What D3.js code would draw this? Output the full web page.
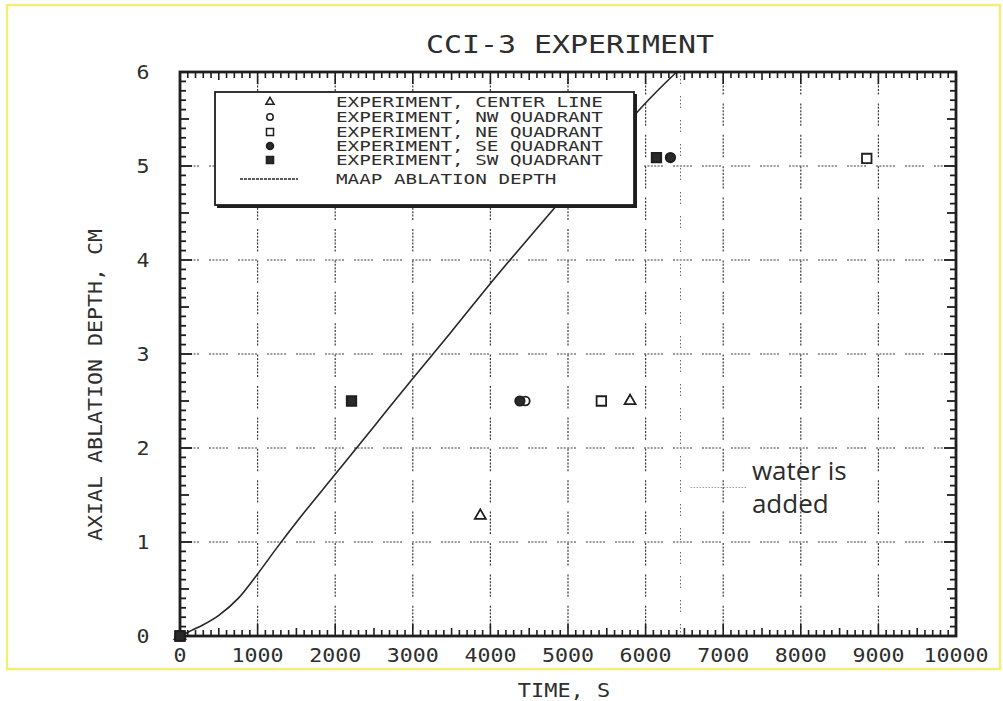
<!DOCTYPE html>
<html>
<head>
<meta charset="utf-8">
<script src="https://cdn.jsdelivr.net/npm/d3@7"></script>
<style>
  html, body { margin: 0; padding: 0; background: #fff; }
  svg { display: block; }
  .plot { font-family: "DejaVu Sans Mono", monospace; fill: #2e2e2e; }
</style>
</head>
<body>
<svg id="chart" width="1003" height="701"></svg>
<script>
// CCI-3 ablation experiment: measured axial ablation depth vs. MAAP prediction
const title = "CCI-3 EXPERIMENT";
const xTitle = "TIME, S";
const yTitle = "AXIAL ABLATION DEPTH, CM";
const xTicks = [0, 1000, 2000, 3000, 4000, 5000, 6000, 7000, 8000, 9000, 10000];
const yTicks = [0, 1, 2, 3, 4, 5, 6];

// Measured points per thermocouple location
const centerTime = [0, 3870, 5800];
const centerDepth = [0, 1.28, 2.5];
const nwTime = [0, 4450];
const nwDepth = [0, 2.5];
const neTime = [0, 5430, 8850];
const neDepth = [0, 2.5, 5.08];
const seTime = [0, 4380, 6320];
const seDepth = [0, 2.5, 5.09];
const swTime = [0, 2210, 6140];
const swDepth = [0, 2.5, 5.09];

// MAAP calculated ablation front
const maapTime = [0, 150, 300, 500, 750, 1000, 1250, 1500, 2000, 2500, 3000, 3500, 4000, 4500, 5000, 5500, 6000, 6250, 6400];
const maapDepth = [0, 0.06, 0.12, 0.22, 0.4, 0.66, 0.94, 1.21, 1.72, 2.23, 2.74, 3.24, 3.75, 4.24, 4.72, 5.2, 5.67, 5.88, 6.0];

// Time at which water is added to the cavity
const waterTime = 6450;
const waterNote = ["water is", "added"];

const legendLabels = [
  "EXPERIMENT, CENTER LINE",
  "EXPERIMENT, NW QUADRANT",
  "EXPERIMENT, NE QUADRANT",
  "EXPERIMENT, SE QUADRANT",
  "EXPERIMENT, SW QUADRANT",
  "MAAP ABLATION DEPTH"
];

const series = [
  { t: centerTime, d: centerDepth, shape: d3.symbolTriangle, fill: false, size: 52 },
  { t: nwTime, d: nwDepth, shape: d3.symbolCircle, fill: false, size: 60 },
  { t: neTime, d: neDepth, shape: d3.symbolSquare, fill: false, size: 90 },
  { t: seTime, d: seDepth, shape: d3.symbolCircle, fill: true, size: 70 },
  { t: swTime, d: swDepth, shape: d3.symbolSquare, fill: true, size: 90 }
];

const svg = d3.select("#chart");
const ink = "#1e1e1e";

// page frame
svg.append("rect").attr("x", 7).attr("y", 5).attr("width", 993).attr("height", 664)
  .attr("fill", "none").attr("stroke", "#f3ee7a").attr("stroke-width", 2.5);

const x = d3.scaleLinear().domain([0, 10000]).range([180, 956]);
const y = d3.scaleLinear().domain([0, 6]).range([636, 72]);

// plotter style lettering: fixed advance per character
function plotText(sel, charW) {
  sel.each(function () {
    const s = d3.select(this);
    s.attr("textLength", s.text().length * charW).attr("lengthAdjust", "spacingAndGlyphs");
  });
  return sel;
}

// dotted-dash pattern for grid lines
function dotDash(dots, on, off, gap) {
  const a = [];
  for (let i = 0; i < dots; i++) a.push(on, off);
  a[a.length - 1] = gap;
  return a.join(",");
}

const grid = svg.append("g");
grid.selectAll("line.v").data(xTicks.slice(1, -1)).join("line")
  .attr("x1", d => x(d)).attr("x2", d => x(d))
  .attr("y1", y(6)).attr("y2", y(0))
  .attr("stroke", "#3a3a3a").attr("stroke-width", 1.2)
  .attr("stroke-dasharray", dotDash(7, 2, 1.4, 9));
grid.selectAll("line.h").data(yTicks.slice(1, -1)).join("line")
  .attr("x1", x(0)).attr("x2", x(10000))
  .attr("y1", d => y(d)).attr("y2", d => y(d))
  .attr("stroke", "#3a3a3a").attr("stroke-width", 1.2)
  .attr("stroke-dasharray", dotDash(6, 2, 1.4, 10));

// water addition marker
grid.append("line")
  .attr("x1", x(waterTime)).attr("x2", x(waterTime))
  .attr("y1", y(6)).attr("y2", y(0))
  .attr("stroke", "#6a6a6a").attr("stroke-width", 1)
  .attr("stroke-dasharray", dotDash(4, 1.5, 2, 12));
grid.append("line")
  .attr("x1", x(6580)).attr("x2", x(7300))
  .attr("y1", y(1.58)).attr("y2", y(1.58))
  .attr("stroke", "#9a9a9a").attr("stroke-width", 1)
  .attr("stroke-dasharray", "1.5,1.5");
svg.append("g").selectAll("text").data(waterNote).join("text")
  .attr("x", x(7370)).attr("y", (d, i) => y(1.66) + i * 33)
  .attr("font-family", "'Open Sans', sans-serif").attr("font-size", 26)
  .attr("fill", "#2c2c2c").text(d => d);

// MAAP curve
const maapPts = maapTime.map((t, i) => [t, maapDepth[i]]);
svg.append("path").datum(maapPts)
  .attr("fill", "none").attr("stroke", "#262626").attr("stroke-width", 1.6)
  .attr("d", d3.line().curve(d3.curveMonotoneX).x(d => x(d[0])).y(d => y(d[1])));

// frame with inward ticks
const frame = svg.append("g");
const xMinor = d3.range(100, 10000, 100);
const yMinor = d3.range(1, 60).map(v => v / 10);
function xLen(v) { return v % 1000 === 0 ? 12 : (v % 500 === 0 ? 8 : 6); }
function yLen(v) { const k = Math.round(v * 10); return k % 10 === 0 ? 12 : (k % 5 === 0 ? 9 : 6); }
frame.selectAll("line.b").data(xMinor).join("line")
  .attr("x1", d => x(d)).attr("x2", d => x(d))
  .attr("y1", y(0)).attr("y2", d => y(0) - xLen(d))
  .attr("stroke", ink).attr("stroke-width", 1.6);
frame.selectAll("line.t").data(xMinor).join("line")
  .attr("x1", d => x(d)).attr("x2", d => x(d))
  .attr("y1", y(6)).attr("y2", d => y(6) + xLen(d))
  .attr("stroke", ink).attr("stroke-width", 1.6);
frame.selectAll("line.l").data(yMinor).join("line")
  .attr("x1", x(0)).attr("x2", d => x(0) + yLen(d))
  .attr("y1", d => y(d)).attr("y2", d => y(d))
  .attr("stroke", ink).attr("stroke-width", 1.8);
frame.selectAll("line.r").data(yMinor).join("line")
  .attr("x1", x(10000)).attr("x2", d => x(10000) - yLen(d))
  .attr("y1", d => y(d)).attr("y2", d => y(d))
  .attr("stroke", ink).attr("stroke-width", 1.8);
frame.append("rect")
  .attr("x", x(0)).attr("y", y(6)).attr("width", x(10000) - x(0)).attr("height", y(0) - y(6))
  .attr("fill", "none").attr("stroke", ink).attr("stroke-width", 2.8);

// tick labels
const labels = svg.append("g").attr("class", "plot");
plotText(labels.selectAll("text.x").data(xTicks).join("text")
  .attr("x", d => x(d)).attr("y", 662).attr("text-anchor", "middle")
  .attr("font-size", 19).text(d => d), 13);
plotText(labels.selectAll("text.y").data(yTicks).join("text")
  .attr("x", 143).attr("y", d => y(d) + 7).attr("text-anchor", "middle")
  .attr("font-size", 19).text(d => d), 13);

// titles
plotText(labels.append("text").attr("x", 570).attr("y", 53).attr("text-anchor", "middle")
  .attr("font-size", 24).text(title), 18);
plotText(labels.append("text").attr("x", 564).attr("y", 697).attr("text-anchor", "middle")
  .attr("font-size", 20).text(xTitle), 13.2);
plotText(labels.append("text").attr("transform", "translate(102,385) rotate(-90)")
  .attr("text-anchor", "middle").attr("font-size", 20).text(yTitle), 13);

// experiment markers
const marks = svg.append("g");
series.forEach(s => {
  const pts = s.t.map((t, i) => [t, s.d[i]]);
  marks.append("g").selectAll("path").data(pts).join("path")
    .attr("transform", d => `translate(${x(d[0])},${y(d[1])})`)
    .attr("d", d3.symbol().type(s.shape).size(s.size))
    .attr("fill", s.fill ? "#2a2a2a" : "#fff")
    .attr("stroke", "#1e1e1e").attr("stroke-width", 1.8);
});

// legend
const lg = svg.append("g");
lg.append("rect").attr("x", 217).attr("y", 94).attr("width", 420).attr("height", 114)
  .attr("fill", "#1e1e1e");
lg.append("rect").attr("x", 215).attr("y", 92).attr("width", 419).attr("height", 113)
  .attr("fill", "#fff").attr("stroke", ink).attr("stroke-width", 1.8);
const rowY = [106, 121, 136, 150, 164, 183];
series.forEach((s, i) => {
  lg.append("path")
    .attr("transform", `translate(270,${rowY[i] - 4})`)
    .attr("d", d3.symbol().type(s.shape).size(s.size * 0.55))
    .attr("fill", s.fill ? "#2a2a2a" : "#fff")
    .attr("stroke", "#1e1e1e").attr("stroke-width", 1.5);
});
lg.append("line").attr("x1", 240).attr("x2", 298).attr("y1", rowY[5] - 4).attr("y2", rowY[5] - 4)
  .attr("stroke", "#262626").attr("stroke-width", 1.5).attr("stroke-dasharray", "3,1");
plotText(lg.append("g").attr("class", "plot").selectAll("text").data(legendLabels).join("text")
  .attr("x", 336).attr("y", (d, i) => rowY[i] + 1)
  .attr("font-size", 14).text(d => d), 11.6);
</script>
</body>
</html>
